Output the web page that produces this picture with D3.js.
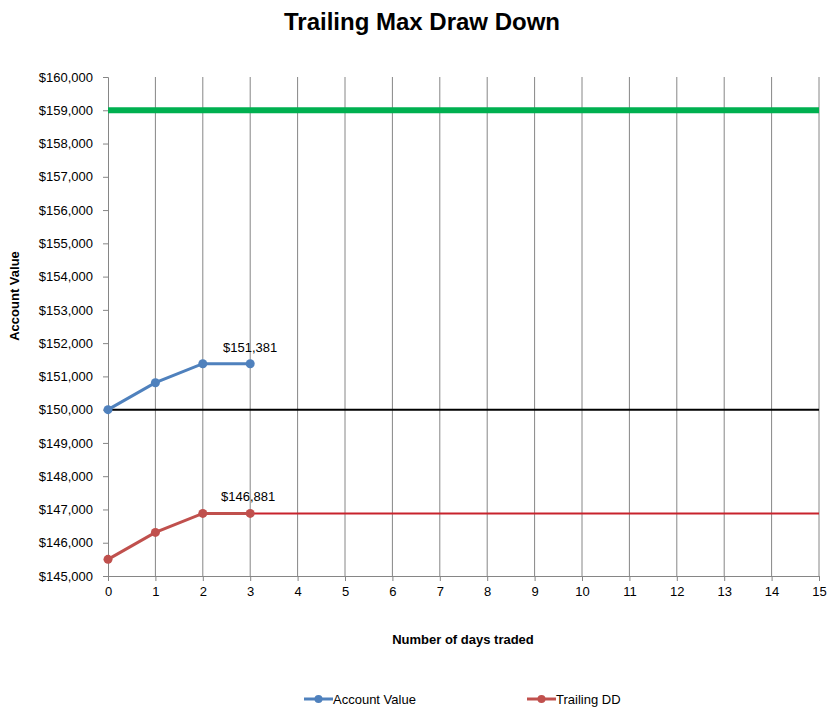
<!DOCTYPE html>
<html><head><meta charset="utf-8">
<script src="https://cdn.jsdelivr.net/npm/d3@7"></script>
<style>body{margin:0;background:#fff;font-family:"Liberation Sans",Arial,sans-serif;}</style>
</head><body><svg id="c" width="837" height="721"></svg>
<script>
const days = [0,1,2,3,4,5,6,7,8,9,10,11,12,13,14,15];
const accountDays = [0,1,2,3];
const accountValue = [150000,150810,151381,151381];
const trailingDD = [145500,146310,146881,146881];
const ddExtendedDays = [3,15];
const ddExtended = [146881,146881];
const targetLevel = [159000,159000];
const startLevel = [150000,150000];
const levelDays = [0,15];
const yTicks = [145000,146000,147000,148000,149000,150000,151000,152000,153000,154000,155000,156000,157000,158000,159000,160000];

const svg = d3.select("#c");
const L=108,R=819,T=77,B=576;
const x = d3.scaleLinear().domain([0,15]).range([L,R]);
const y = d3.scaleLinear().domain([145000,160000]).range([B,T]);
const fmt = v => "$" + d3.format(",")(v);
const FF = "Liberation Sans, Arial, sans-serif";

// vertical gridlines
svg.append("g").selectAll("line").data(days.slice(1)).join("line")
  .attr("x1",d=>x(d)).attr("x2",d=>x(d)).attr("y1",T).attr("y2",B)
  .attr("stroke","#868686").attr("stroke-width",1);

// y axis
const ya = svg.append("g").attr("transform",`translate(${L},0)`)
  .call(d3.axisLeft(y).tickValues(yTicks).tickFormat(fmt).tickSize(5).tickPadding(10));
ya.select(".domain").attr("stroke","#868686");
ya.selectAll(".tick line").attr("stroke","#868686");
ya.selectAll("text").attr("font-size",13).attr("fill","#000").attr("font-family",FF);

// x axis
const xa = svg.append("g").attr("transform",`translate(0,${B})`)
  .call(d3.axisBottom(x).tickValues(days).tickFormat(d3.format("d")).tickSize(5).tickPadding(6));
xa.select(".domain").attr("stroke","#868686");
xa.selectAll(".tick line").attr("stroke","#868686");
xa.selectAll("text").attr("font-size",13).attr("fill","#000").attr("font-family",FF);

const line = d3.line().x(d=>x(d[0])).y(d=>y(d[1]));

// target level (green)
svg.append("path").datum(levelDays.map((d,i)=>[d,targetLevel[i]]))
  .attr("d",line).attr("stroke","#00B050").attr("stroke-width",6).attr("fill","none");
// starting level (black)
svg.append("path").datum(levelDays.map((d,i)=>[d,startLevel[i]]))
  .attr("d",line).attr("stroke","#000").attr("stroke-width",2).attr("fill","none");
// DD extended
svg.append("path").datum(ddExtendedDays.map((d,i)=>[d,ddExtended[i]]))
  .attr("d",line).attr("stroke","#C8232C").attr("stroke-width",2).attr("fill","none");

function series(vals,color){
  const pts = accountDays.map((d,i)=>[d,vals[i]]);
  svg.append("path").datum(pts).attr("d",line).attr("stroke",color).attr("stroke-width",3).attr("fill","none");
  svg.append("g").selectAll("circle").data(pts).join("circle")
    .attr("cx",d=>x(d[0])).attr("cy",d=>y(d[1])).attr("r",4.5).attr("fill",color);
}
series(trailingDD,"#C0504D");
series(accountValue,"#4F81BD");

// data labels
svg.append("text").attr("x",x(3)).attr("y",y(accountValue[3])-12).attr("text-anchor","middle")
  .attr("font-size",13).text(fmt(accountValue[3]));
svg.append("text").attr("x",x(3)-2).attr("y",y(trailingDD[3])-12).attr("text-anchor","middle")
  .attr("font-size",13).text(fmt(trailingDD[3]));

// titles
svg.append("text").attr("x",422).attr("y",30).attr("text-anchor","middle")
  .attr("font-size",24).attr("font-weight","bold").text("Trailing Max Draw Down");
svg.append("text").attr("transform","translate(19,296) rotate(-90)").attr("text-anchor","middle")
  .attr("font-size",13).attr("font-weight","bold").text("Account Value");
svg.append("text").attr("x",463).attr("y",644).attr("text-anchor","middle")
  .attr("font-size",13).attr("font-weight","bold").text("Number of days traded");

// legend
const legend = [{name:"Account Value",color:"#4F81BD",x:304},{name:"Trailing DD",color:"#C0504D",x:527}];
const lg = svg.append("g").selectAll("g").data(legend).join("g").attr("transform",d=>`translate(${d.x},699)`);
lg.append("line").attr("x1",0).attr("x2",29).attr("stroke",d=>d.color).attr("stroke-width",3);
lg.append("circle").attr("cx",14.5).attr("r",4).attr("fill",d=>d.color);
lg.append("text").attr("x",29).attr("y",4.5).attr("font-size",13).text(d=>d.name);
</script></body></html>
